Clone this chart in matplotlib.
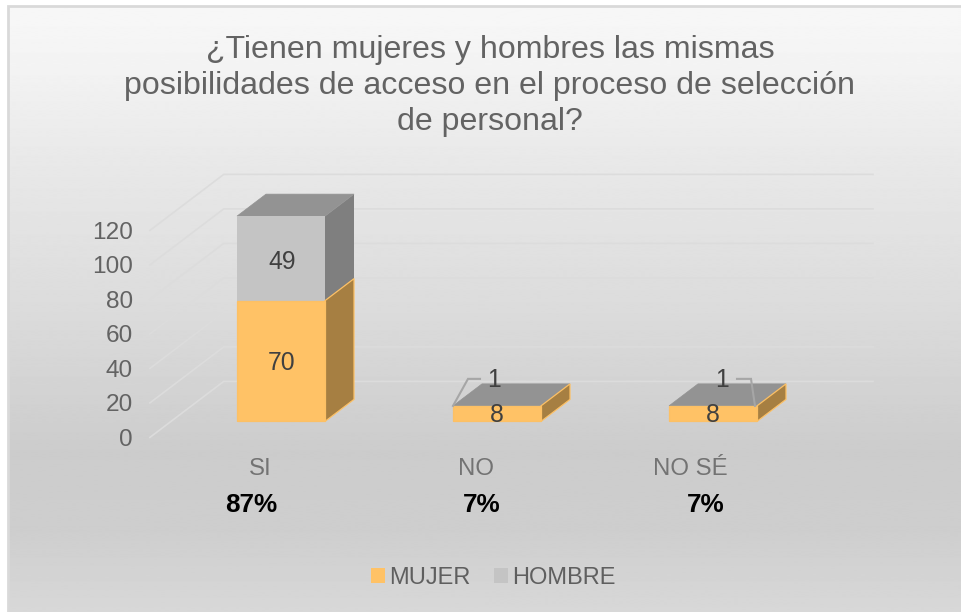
import numpy as np
import matplotlib
matplotlib.use("Agg")
import matplotlib.pyplot as plt
from matplotlib.patches import Polygon, Rectangle, Patch

plt.rcParams['font.family'] = ['Liberation Sans', 'DejaVu Sans']

categories = ['SI', 'NO', 'NO SÉ']
mujer = [70, 8, 8]
hombre = [49, 1, 1]
percent = ['87%', '7%', '7%']
yticks = [0, 20, 40, 60, 80, 100, 120]
title = '¿Tienen mujeres y hombres las mismas\nposibilidades de acceso en el proceso de selección\nde personal?'

W, H = 962, 612
PX_X = 216.0          # px per category
PX_Y = 1.725          # px per value unit
X0, Y0 = 281.0, 421.4 # px of category 0, value 0
xlim = (-X0 / PX_X, (W - X0) / PX_X)
ylim = (-(H - Y0) / PX_Y, Y0 / PX_Y)

fig = plt.figure(figsize=(W / 100, H / 100), dpi=100, facecolor='white')
ax = fig.add_axes([0, 0, 1, 1])
ax.set_xlim(*xlim)
ax.set_ylim(*ylim)
ax.axis('off')

# depth projection
DX = 29.0 / PX_X
DY = 22.0 / PX_Y
def proj(x, v, d=0.0):
    return (x + d * DX, v + d * DY)

def sx(px):  # pixel distance to x units
    return px / PX_X
def sy(px):
    return px / PX_Y

# background
stops_y = np.array([0, 6, 60, 150, 300, 450, 530, 612])
stops_c = np.array([247, 247, 243, 233, 220, 204, 206, 216])
grad = np.interp(np.arange(H), stops_y, stops_c).reshape(-1, 1) / 255
fx = lambda p: xlim[0] + p / PX_X
fy = lambda p: ylim[1] - p / PX_Y
ax.imshow(grad, cmap='gray', vmin=0, vmax=1, aspect='auto', zorder=0,
          extent=(fx(9), xlim[1], ylim[0], fy(7)), interpolation='bilinear')
ax.set_xlim(*xlim); ax.set_ylim(*ylim)
ax.add_patch(Rectangle((fx(8), ylim[0]), xlim[1] - fx(8), fy(6) - ylim[0],
             fill=False, ec='#d9d9d9', lw=2, zorder=1))

# gridlines on the floor-side wall and the back wall
D_FRONT, D_BACK = -16 / 22, 40 / 22
x_left = fx(171)
x_right = fx(873)
for v in yticks:
    p1 = proj(x_left, v, D_FRONT)
    p2 = proj(x_left, v, D_BACK)
    ax.plot([p1[0], p2[0], x_right], [p1[1], p2[1], p2[1]], color='#dcdcdc', lw=1.2,
            solid_joinstyle='miter', zorder=2)
    ax.text(p1[0] - sx(17), p1[1] - sy(2.5), str(v), ha='right', va='center',
            fontsize=17.6, color='#636363', zorder=6)

HALF = 44 / PX_X
def box(x, v0, v1, front, side, top, edge=None, elw=0, z=3):
    l, r = x - HALF, x + HALF
    kw = dict(closed=True, zorder=z, lw=elw, joinstyle='miter')
    ax.add_patch(Polygon([proj(r, v0), proj(r, v0, 1), proj(r, v1, 1), proj(r, v1)],
                         fc=side, ec=edge or side, **kw))
    if top:
        ax.add_patch(Polygon([proj(l, v1), proj(l, v1, 1), proj(r, v1, 1), proj(r, v1)],
                             fc=top, ec=top, zorder=z, lw=0.5))
    ax.add_patch(Polygon([proj(l, v0), proj(r, v0), proj(r, v1), proj(l, v1)],
                         fc=front, ec=edge or front, **kw))

for i in range(len(categories)):
    m, h = mujer[i], hombre[i]
    box(i, m, m + h, '#c4c4c4', '#7f7f7f', '#939393', z=3)
    box(i, 0, m + (h if h < 5 else 0), '#ffc266', '#a67f42', None, edge='#fcc065', elw=0.9, z=4)

# data labels
LBL = dict(ha='center', va='center', fontsize=17.8, color='#404040', zorder=7)
ax.text(sx(1), sy(58.5), str(mujer[0]), **LBL)
ax.text(sx(1), sy(159.5), str(hombre[0]), **LBL)
for i in (1, 2):
    ax.text(i + sx(0), sy(6), str(mujer[i]), **LBL)

top1 = mujer[1] + hombre[1]
ax.text(1 - sx(3), top1 + sy(26), str(hombre[1]), **LBL)
ax.text(2 + sx(9), top1 + sy(26), str(hombre[2]), **LBL)
ax.plot([1 - HALF, 1 - sx(29), 1 - sx(17)], [top1, top1 + sy(27), top1 + sy(27)],
        color='#a6a6a6', lw=1.5, zorder=6, solid_joinstyle='miter')
ax.plot([2 + HALF - sx(2), 2 + sx(38), 2 + sx(24)], [top1, top1 + sy(27), top1 + sy(27)],
        color='#a6a6a6', lw=1.5, zorder=6, solid_joinstyle='miter')

# category labels and percentages
cat_off = [-21, -21, -23]
pct_off = [-30, -15.5, -7]
for i, (c, p) in enumerate(zip(categories, percent)):
    ax.text(i + sx(cat_off[i]), -sy(47.5), c, ha='center', va='center', fontsize=17.3, color='#737373', zorder=6)
    ax.text(i + sx(pct_off[i]), -sy(84), p, ha='center', va='center', fontsize=18.8,
            fontweight='bold', color='#000000', zorder=6)

# title
ax.text(fx(490), fy(86), title, ha='center', va='center', fontsize=23.1, color='#636363',
        linespacing=1.25, zorder=6)

# legend
leg = ax.legend(handles=[Patch(fc='#ffc266', ec='none', label='MUJER'),
                         Patch(fc='#c4c4c4', ec='none', label='HOMBRE')],
                loc='center', bbox_to_anchor=(493 / W, 1 - 578 / H), ncol=2, frameon=False,
                fontsize=17, labelcolor='#5f5f5f', handlelength=0.62, handleheight=0.62,
                handletextpad=0.15, columnspacing=1.0, borderpad=0)
leg.set_zorder(8)

fig.savefig('out.png', dpi=100, facecolor='white')
